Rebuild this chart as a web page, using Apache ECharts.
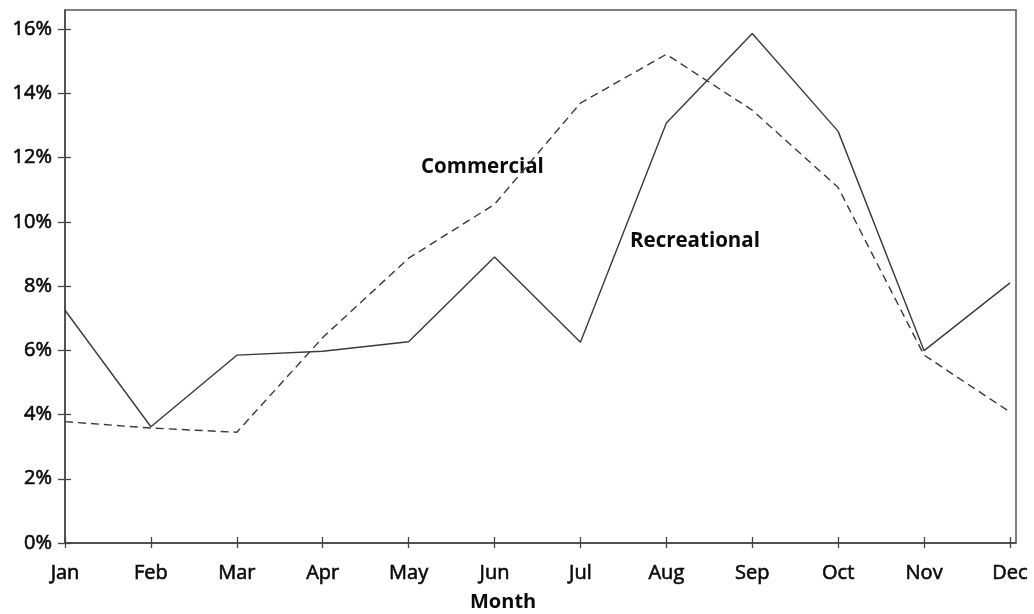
<!DOCTYPE html>
<html>
<head>
<meta charset="utf-8">
<style>
  html, body { margin: 0; padding: 0; background: #fff; }
  #chart { width: 1034px; height: 614px; }
</style>
<script src="https://cdn.jsdelivr.net/npm/echarts@6/dist/echarts.min.js"></script>
</head>
<body>
<div id="chart"></div>
<script>
// Monthly share of boating activity (%)
const months = ['Jan', 'Feb', 'Mar', 'Apr', 'May', 'Jun', 'Jul', 'Aug', 'Sep', 'Oct', 'Nov', 'Dec'];
const recreational = [7.25, 3.62, 5.85, 5.97, 6.27, 8.91, 6.25, 13.08, 15.87, 12.82, 5.99, 8.1];
const commercial = [3.78, 3.58, 3.45, 6.4, 8.87, 10.55, 13.7, 15.22, 13.48, 11.07, 5.85, 4.08];
const yTicks = [0, 2, 4, 6, 8, 10, 12, 14, 16];

const FONT = '"Open Sans", "DejaVu Sans", sans-serif';
const INK = '#0a0a0a';
const LINE = '#3a3a3a';
const monthIdx = months.map((_, i) => i);

const gridRect = { left: 65, right: 18, top: 10, bottom: 71 };

const chart = echarts.init(document.getElementById('chart'), null, { renderer: 'canvas' });

const xBase = {
  type: 'value', min: 0, max: 11.07, interval: 1,
  splitLine: { show: false }
};
const yBase = {
  type: 'value', min: 0, max: 16.6, interval: 2,
  splitLine: { show: false }
};

// slightly heavier tick text
const tickText = {
  color: INK, fontFamily: FONT, fontSize: 20,
  textBorderColor: INK, textBorderWidth: 0.6
};

chart.setOption({
  animation: false,
  backgroundColor: '#fff',
  grid: [
    Object.assign({ show: true, borderColor: '#555', borderWidth: 1.5, backgroundColor: 'transparent' }, gridRect),
    Object.assign({ show: false }, gridRect)
  ],
  xAxis: [
    Object.assign({}, xBase, {
      gridIndex: 0,
      axisLine: { show: true, lineStyle: { color: '#444', width: 1.5 } },
      axisTick: { show: true, inside: false, length: 5, customValues: monthIdx, lineStyle: { color: '#444', width: 1.3 } },
      axisLabel: Object.assign({
        show: true, customValues: monthIdx, margin: 20,
        formatter: v => months[Math.round(v)] || ''
      }, tickText)
    }),
    Object.assign({}, xBase, {
      gridIndex: 1,
      axisLine: { show: false },
      axisTick: { show: true, inside: true, length: 6, customValues: monthIdx, lineStyle: { color: '#444', width: 1.3 } },
      axisLabel: { show: false }
    })
  ],
  yAxis: [
    Object.assign({}, yBase, {
      gridIndex: 0,
      axisLine: { show: true, lineStyle: { color: '#444', width: 1.5 } },
      axisTick: { show: true, inside: false, length: 7, customValues: yTicks, lineStyle: { color: '#444', width: 1.3 } },
      axisLabel: Object.assign({
        show: true, customValues: yTicks, margin: 13,
        formatter: v => v + '%'
      }, tickText)
    }),
    Object.assign({}, yBase, {
      gridIndex: 1,
      axisLine: { show: false },
      axisTick: { show: true, inside: true, length: 6, customValues: yTicks, lineStyle: { color: '#444', width: 1.3 } },
      axisLabel: { show: false }
    })
  ],
  series: [
    {
      name: 'Recreational', type: 'line', xAxisIndex: 0, yAxisIndex: 0,
      data: recreational.map((v, i) => [i, v]),
      showSymbol: false, symbol: 'none',
      lineStyle: { color: LINE, width: 1.4, type: 'solid' }
    },
    {
      name: 'Commercial', type: 'line', xAxisIndex: 0, yAxisIndex: 0,
      data: commercial.map((v, i) => [i, v]),
      showSymbol: false, symbol: 'none',
      lineStyle: { color: LINE, width: 1.4, type: [8, 5] }
    }
  ],
  graphic: [
    {
      type: 'text', left: 421, top: 157,
      style: { text: 'Commercial', fill: INK, font: 'bold 20.5px ' + FONT }
    },
    {
      type: 'text', left: 630, top: 231,
      style: { text: 'Recreational', fill: INK, font: 'bold 20.5px ' + FONT }
    },
    {
      type: 'text', left: 470, top: 592,
      style: { text: 'Month', fill: INK, font: 'bold 20px ' + FONT }
    }
  ]
});
</script>
</body>
</html>
